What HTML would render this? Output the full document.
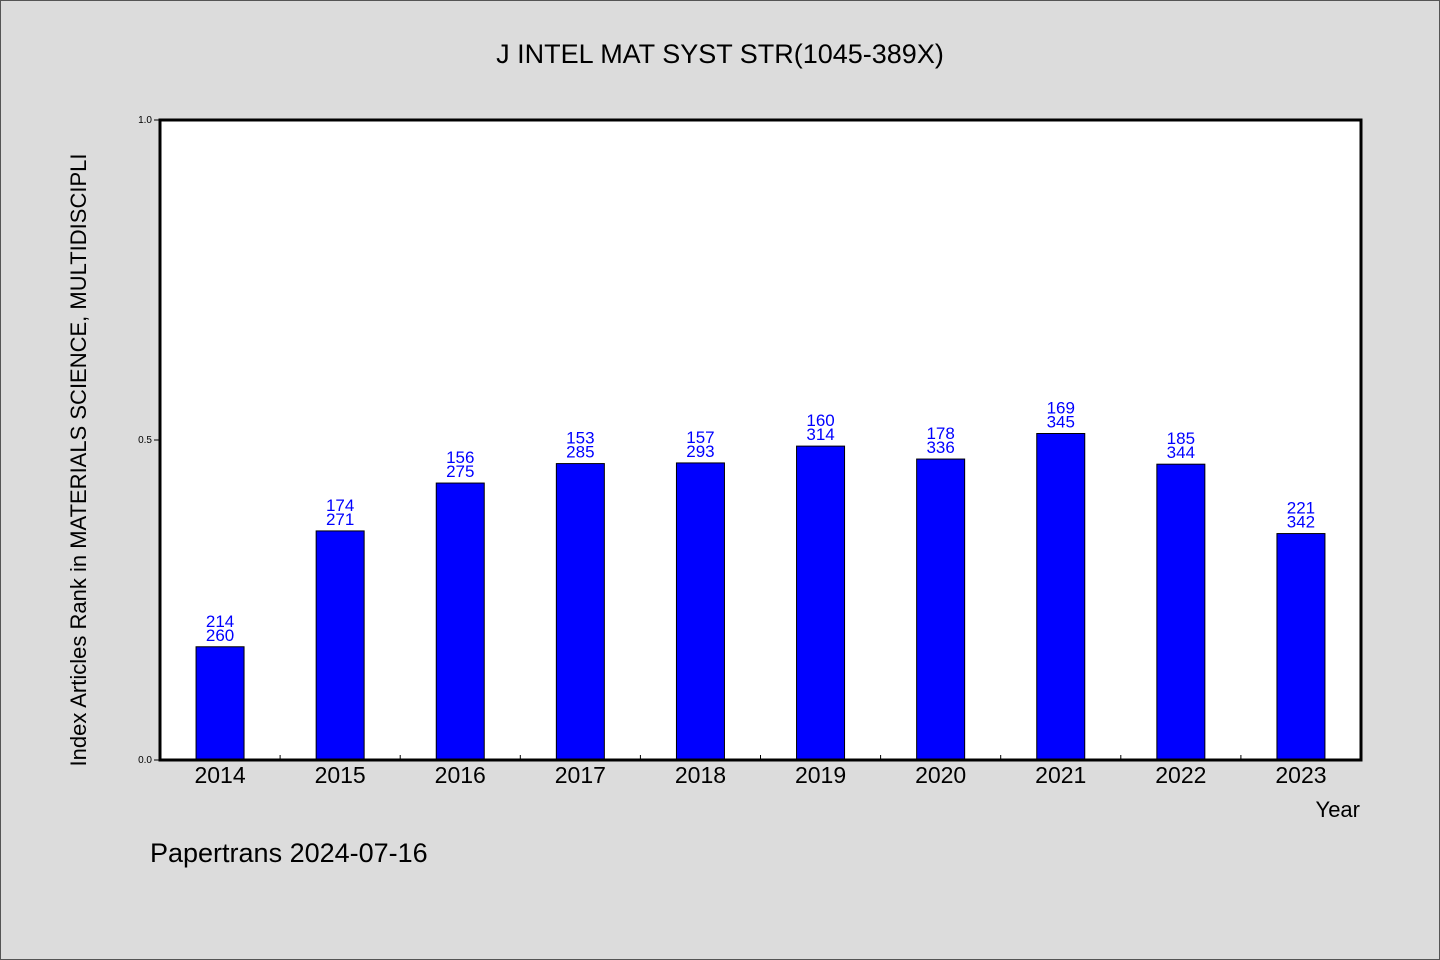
<!DOCTYPE html>
<html><head><meta charset="utf-8"><style>
body{margin:0;width:1440px;height:960px;background:#dcdcdc;overflow:hidden}
svg{display:block;font-family:"WenQuanYi Zen Hei","Liberation Sans",sans-serif}
</style></head><body>
<svg width="1440" height="960">
<rect x="0.5" y="0.5" width="1439" height="959" fill="#dcdcdc" stroke="#555"/>
<text x="720" y="63" font-size="27" text-anchor="middle">J INTEL MAT SYST STR(1045-389X)</text>
<text transform="translate(86,460) rotate(-90)" font-size="22" text-anchor="middle">Index Articles Rank in MATERIALS SCIENCE, MULTIDISCIPLI</text>
<rect x="160" y="120" width="1201" height="640" fill="#fff"/>
<g id="marks"></g>
<rect x="160" y="120" width="1201" height="640" fill="none" stroke="#000" stroke-width="3"/>
<text x="1360" y="817" font-size="22" text-anchor="end">Year</text>
<text x="150" y="862" font-size="27">Papertrans 2024-07-16</text>
</svg>
<script>
const years=["2014","2015","2016","2017","2018","2019","2020","2021","2022","2023"];
const ranks=[214,174,156,153,157,160,178,169,185,221];
const totals=[260,271,275,285,293,314,336,345,344,342];
const yTicks=[0,0.5,1];
const yTickLabels=["0.0","0.5","1.0"];
const L=160,R=1361,T=120,B=760;
const y=v=>B-(B-T)*v;
const step=(R-L)/years.length;
const xc=i=>L+step*(i+0.5);
const g=document.getElementById('marks');
const NS='http://www.w3.org/2000/svg';
function mk(tag,attrs,text){const e=document.createElementNS(NS,tag);for(const k in attrs)e.setAttribute(k,attrs[k]);if(text!==undefined)e.textContent=text;g.appendChild(e);return e;}
yTicks.forEach((t,i)=>{
 const l=mk('line',{x1:L-6,x2:L,y1:y(t),y2:y(t),stroke:'#000'});
 
 
 const tx=mk('text',{x:L-8,y:y(t)+3,'font-size':10,'text-anchor':'end'},yTickLabels[i]);
 
 
});
years.forEach((yr,i)=>{
 const v=1-ranks[i]/totals[i];
 const b=mk('rect',{x:xc(i)-24,y:y(v),width:48,height:B-y(v),fill:'#0000ff',stroke:'#000','stroke-width':1});
 
 
 const r=mk('text',{x:xc(i),y:y(v)-20,'font-size':17,fill:'#0000ff','text-anchor':'middle'},ranks[i]);
 
 
 const t=mk('text',{x:xc(i),y:y(v)-6,'font-size':17,fill:'#0000ff','text-anchor':'middle'},totals[i]);
 
 
 const xl=mk('text',{x:xc(i),y:B+23,'font-size':23,'text-anchor':'middle'},yr);
 
 
 if(i>0){const tk=mk('line',{x1:L+step*i,x2:L+step*i,y1:B-5,y2:B,stroke:'#000'});
 
 }
});
</script>
</body></html>
